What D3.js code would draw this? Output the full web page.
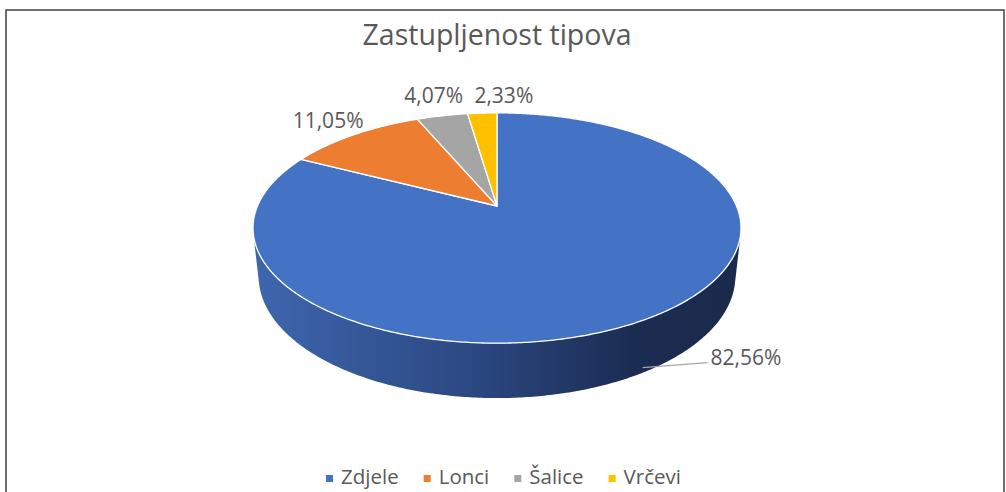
<!DOCTYPE html>
<meta charset="utf-8">
<body style="margin:0">
<script src="https://d3js.org/d3.v7.min.js"></script>
<script>
// data
var categories = ["Zdjele", "Lonci", "Šalice", "Vrčevi"];
var shares = [82.56, 11.05, 4.07, 2.33];
var labels = ["82,56%", "11,05%", "4,07%", "2,33%"];
var colors = ["#4472c4", "#ed7d31", "#a5a5a5", "#ffc000"];

// layout
var W = 1006, H = 492;
var cx = 497, cy = 206;          // screen point of the pie centre
var f = 1110, D = 4.635;         // perspective: focal length, camera distance (radius = 1)
var alpha = 27.6 * Math.PI / 180;
var thick = 0.23;                // pie height (radius units)
var ca = Math.cos(alpha), sa = Math.sin(alpha);

// label nudges [dx, dy] relative to projected anchor
var labelNudge = [[0, 0], [-11, 1], [-3, -4], [23, -1]];

// project a point on the pie (angle clockwise from the back, radius, height)
function proj(phi, r, Y) {
  var X = r * Math.sin(phi), Z = -r * Math.cos(phi);
  var d = D - (Y * sa + Z * ca);
  var v = Y * ca - Z * sa;
  return [cx + f * X / d, cy - f * v / d];
}

var svg = d3.select("body").append("svg")
    .attr("width", W).attr("height", H)
    .style("font-family", "'Open Sans', sans-serif");

svg.append("rect").attr("width", W).attr("height", H).attr("fill", "#fff");
svg.append("rect")
    .attr("x", 6).attr("y", 10).attr("width", 998).attr("height", 500)
    .attr("fill", "#fff").attr("stroke", "#404040").attr("stroke-width", 1.5);

// title
svg.append("text")
    .attr("x", 497).attr("y", 45)
    .attr("text-anchor", "middle")
    .style("font-size", "28.5px").style("fill", "#595959")
    .text("Zastupljenost tipova");

var pie = d3.pie().sort(null).value(function(d) { return d; })
    .startAngle(0).endAngle(2 * Math.PI);
var arcs = pie(shares);

// side shading
var grad = svg.append("defs").append("linearGradient")
    .attr("id", "side").attr("gradientUnits", "userSpaceOnUse")
    .attr("x1", 253).attr("x2", 741).attr("y1", 0).attr("y2", 0);
[[0, "#3f66ae"], [0.45, "#2b4882"], [0.78, "#1b2c51"], [1, "#1a2a4c"]].forEach(function(s) {
  grad.append("stop").attr("offset", s[0]).attr("stop-color", s[1]);
});

// visible part of the side wall
var zSil = 1 / (D * ca);
var phiMin = Math.acos(-zSil), phiMax = 2 * Math.PI - phiMin;
var line = d3.line();

function samples(a0, a1) {
  var n = Math.max(2, Math.ceil(Math.abs(a1 - a0) / 0.01)), out = [];
  for (var i = 0; i <= n; i++) out.push(a0 + (a1 - a0) * i / n);
  return out;
}

arcs.forEach(function(a, i) {
  var a0 = Math.max(a.startAngle, phiMin), a1 = Math.min(a.endAngle, phiMax);
  if (a1 <= a0) return;
  var pts = samples(a0, a1).map(function(p) { return proj(p, 1, 0); })
      .concat(samples(a1, a0).map(function(p) { return proj(p, 1, -thick); }));
  svg.append("path")
      .attr("d", line(pts) + "Z")
      .attr("fill", i === 0 ? "url(#side)" : d3.color(colors[i]).darker(1.2));
});

// top faces
arcs.forEach(function(a, i) {
  var pts = [proj(0, 0, 0)].concat(samples(a.startAngle, a.endAngle).map(function(p) { return proj(p, 1, 0); }));
  svg.append("path")
      .attr("d", line(pts) + "Z")
      .attr("fill", colors[i])
      .attr("stroke", "#fff").attr("stroke-width", 1.3)
      .attr("stroke-linejoin", "round");
});

// data labels
arcs.forEach(function(a, i) {
  var mid = (a.startAngle + a.endAngle) / 2;
  if (i === 0) {
    var p0 = proj(mid, 1, -thick * 0.9);
    var p1 = [p0[0] + 65, p0[1] - 5];
    svg.append("path").attr("d", line([p0, p1]))
        .attr("fill", "none").attr("stroke", "#a6a6a6").attr("stroke-width", 1.3);
    svg.append("text")
        .attr("x", p1[0] + 3).attr("y", p1[1] + 2)
        .style("font-size", "21px").style("fill", "#595959")
        .text(labels[i]);
  } else {
    var p = proj(mid, 1.12, 0);
    svg.append("text")
        .attr("x", p[0] + labelNudge[i][0]).attr("y", p[1] + labelNudge[i][1])
        .attr("text-anchor", "middle")
        .style("font-size", "21px").style("fill", "#595959")
        .text(labels[i]);
  }
});

// legend
var legend = svg.append("g");
var lx = 0;
categories.forEach(function(c, i) {
  var g = legend.append("g").attr("transform", "translate(" + lx + ",0)");
  g.append("rect").attr("x", 0).attr("y", 475).attr("width", 7).attr("height", 7)
      .attr("fill", colors[i]);
  var t = g.append("text").attr("x", 15).attr("y", 484)
      .style("font-size", "20.5px").style("fill", "#595959").text(c);
  lx += 15 + t.node().getComputedTextLength() + 25;
});
var lw = lx - 25;
legend.attr("transform", "translate(" + (503.5 - lw / 2) + ",0)");
</script>
</body>
